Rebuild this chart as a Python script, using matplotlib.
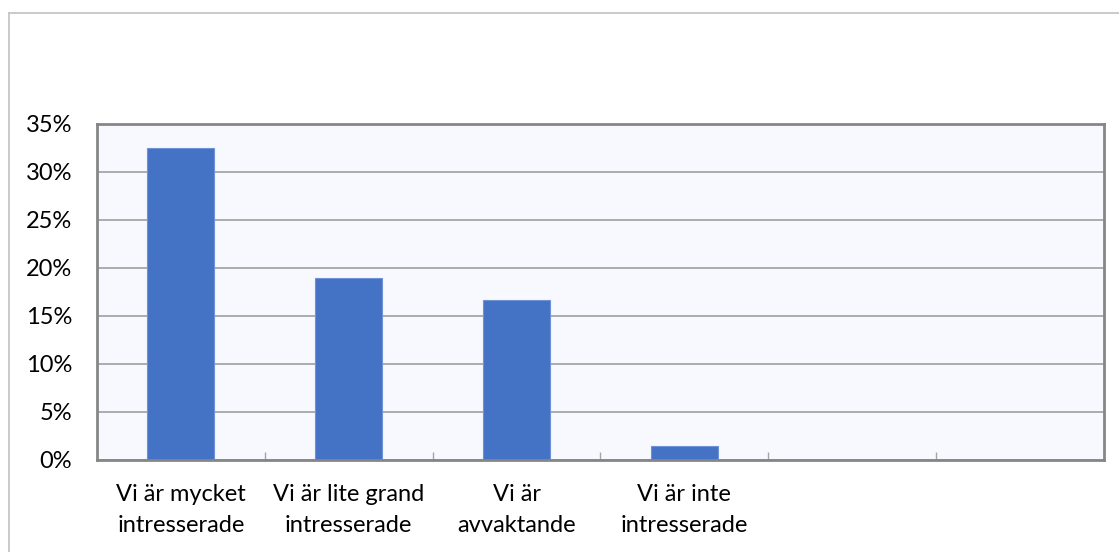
import matplotlib
matplotlib.use("Agg")
import matplotlib.pyplot as plt
from matplotlib.lines import Line2D
from matplotlib.ticker import FuncFormatter, FixedLocator, NullFormatter

# Survey answers: share of respondents per answer (percent)
categories = [
    "Vi är mycket\nintresserade",
    "Vi är lite grand\nintresserade",
    "Vi är\navvaktande",
    "Vi är inte\nintresserade",
    "",
    "",
]
shares = [32.5, 19.0, 16.7, 1.5, None, None]
y_ticks = [0, 5, 10, 15, 20, 25, 30, 35]

plt.rcParams["font.family"] = ["Lato", "DejaVu Sans"]

W, H = 1119, 552
fig = plt.figure(figsize=(W / 100, H / 100), dpi=100)
fig.patch.set_facecolor("white")

# outer chart frame (top and left edges)
fig.add_artist(Line2D([8.5 / W, 1.0], [1 - 12.5 / H] * 2, color="#c6c6c6", lw=1.3))
fig.add_artist(Line2D([8.5 / W] * 2, [0.0, 1 - 12.5 / H], color="#c6c6c6", lw=1.3))

ax = fig.add_axes([97 / W, 1 - 460 / H, (1104 - 97) / W, (460 - 124) / H])
ax.set_facecolor("#f7f9fe")

xs = list(range(len(categories)))
for x, v in zip(xs, shares):
    if v is not None:
        ax.bar(x, v, width=0.4, color="#4472c4", edgecolor="#6f93d6", linewidth=0.8, zorder=3)

ax.set_xlim(-0.5, len(categories) - 0.5)
ax.set_ylim(0, 35)

ax.set_yticks(y_ticks)
ax.yaxis.set_major_formatter(FuncFormatter(lambda v, p: f"{v:.0f}%"))
ax.grid(axis="y", color="#a5a5a5", linewidth=1.3, zorder=1)
ax.tick_params(axis="y", length=0, pad=18, labelsize=17, labelcolor="black")

# category labels centred in each slot, tick marks on slot boundaries
ax.set_xticks(xs)
ax.set_xticklabels(categories, fontsize=17, linespacing=1.62)
ax.tick_params(axis="x", which="major", length=0, pad=17)
ax.xaxis.set_minor_locator(FixedLocator([i + 0.5 for i in range(len(categories) - 1)]))
ax.xaxis.set_minor_formatter(NullFormatter())
ax.tick_params(axis="x", which="minor", direction="in", length=6, width=1.0, color="#a5a5a5")

for s in ax.spines.values():
    s.set_color("#868686")
    s.set_linewidth(2.0)
    s.set_zorder(4)

fig.savefig("out.png", dpi=100, facecolor="white")
